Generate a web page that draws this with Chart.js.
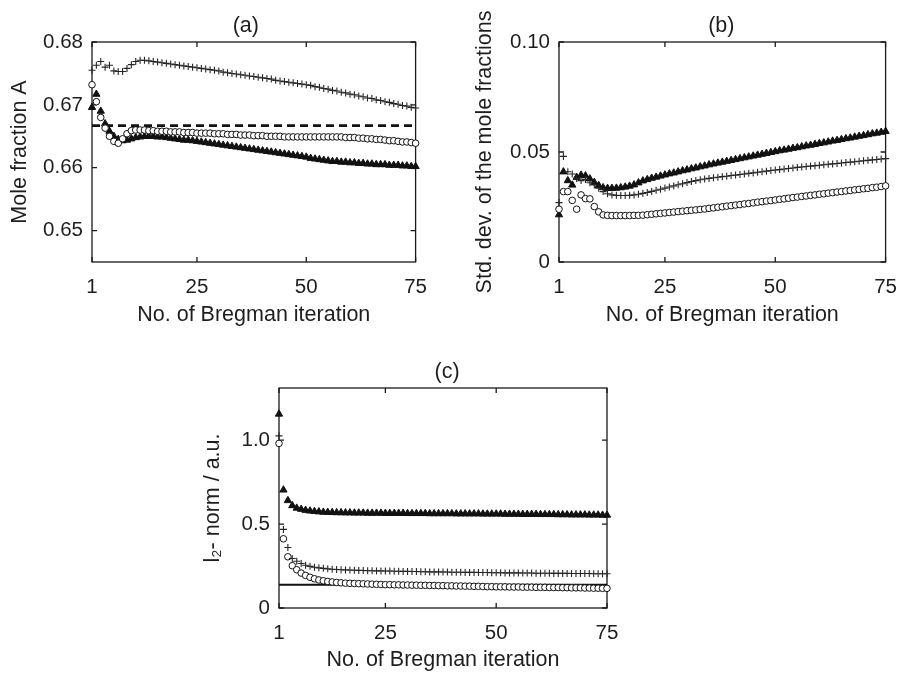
<!DOCTYPE html>
<html>
<head>
<meta charset="utf-8">
<script src="https://cdn.jsdelivr.net/npm/chart.js@4.4.0/dist/chart.umd.min.js"></script>
<style>
  body { margin: 0; background: #fff; width: 898px; height: 673px; overflow: hidden; position: relative; }
  canvas { position: absolute; }
</style>
</head>
<body>
<canvas id="chartA" width="440" height="330" style="left:0;top:0"></canvas>
<canvas id="chartB" width="470" height="330" style="left:440px;top:0"></canvas>
<canvas id="chartC" width="450" height="343" style="left:200px;top:330px"></canvas>
<script>
const iterations = [1, 2, 3, 4, 5, 6, 7, 8, 9, 10, 11, 12, 13, 14, 15, 16, 17, 18, 19, 20,
    21, 22, 23, 24, 25, 26, 27, 28, 29, 30, 31, 32, 33, 34, 35, 36, 37, 38, 39, 40,
    41, 42, 43, 44, 45, 46, 47, 48, 49, 50, 51, 52, 53, 54, 55, 56, 57, 58, 59, 60,
    61, 62, 63, 64, 65, 66, 67, 68, 69, 70, 71, 72, 73, 74, 75];
const xTicks = [1, 25, 50, 75];

// (a) mole fraction A
const aPlus = [0.6755, 0.6763, 0.6769, 0.6760, 0.6763, 0.6754, 0.6753, 0.6753, 0.6758, 0.6764,
    0.6769, 0.6771, 0.6771, 0.6770, 0.6769, 0.6768, 0.6767, 0.6766, 0.6765, 0.6764,
    0.6763, 0.6762, 0.6761, 0.6760, 0.6759, 0.6758, 0.6757, 0.6756, 0.6755, 0.6754,
    0.6752, 0.6751, 0.6750, 0.6749, 0.6748, 0.6747, 0.6746, 0.6745, 0.6744, 0.6743,
    0.6742, 0.6741, 0.6739, 0.6738, 0.6737, 0.6736, 0.6735, 0.6734, 0.6733, 0.6732,
    0.6731, 0.6729, 0.6728, 0.6726, 0.6725, 0.6723, 0.6722, 0.6720, 0.6719, 0.6717,
    0.6716, 0.6714, 0.6713, 0.6711, 0.6710, 0.6708, 0.6707, 0.6705, 0.6704, 0.6702,
    0.6701, 0.6699, 0.6698, 0.6696, 0.6695];
const aCircle = [0.6732, 0.6705, 0.6680, 0.6663, 0.6650, 0.6642, 0.6639, 0.6646, 0.6654, 0.6659,
    0.6660, 0.6660, 0.6660, 0.6659, 0.6659, 0.6658, 0.6658, 0.6658, 0.6657, 0.6657,
    0.6657, 0.6656, 0.6656, 0.6656, 0.6655, 0.6655, 0.6655, 0.6655, 0.6654, 0.6654,
    0.6654, 0.6653, 0.6653, 0.6653, 0.6652, 0.6652, 0.6652, 0.6651, 0.6651, 0.6651,
    0.6650, 0.6650, 0.6650, 0.6650, 0.6649, 0.6649, 0.6649, 0.6649, 0.6649, 0.6649,
    0.6649, 0.6649, 0.6649, 0.6649, 0.6649, 0.6649, 0.6649, 0.6649, 0.6648, 0.6648,
    0.6648, 0.6647, 0.6647, 0.6646, 0.6646, 0.6645, 0.6645, 0.6644, 0.6643, 0.6643,
    0.6642, 0.6641, 0.6641, 0.6640, 0.6639];
const aTri = [0.6696, 0.6717, 0.6690, 0.6670, 0.6658, 0.6650, 0.6645, 0.6643, 0.6644, 0.6646,
    0.6648, 0.6649, 0.6650, 0.6650, 0.6650, 0.6649, 0.6649, 0.6648, 0.6647, 0.6646,
    0.6645, 0.6644, 0.6644, 0.6643, 0.6642, 0.6641, 0.6640, 0.6639, 0.6638, 0.6637,
    0.6636, 0.6635, 0.6634, 0.6633, 0.6632, 0.6631, 0.6630, 0.6629, 0.6628, 0.6627,
    0.6626, 0.6625, 0.6624, 0.6623, 0.6622, 0.6621, 0.6620, 0.6619, 0.6618, 0.6617,
    0.6615, 0.6614, 0.6613, 0.6612, 0.6611, 0.6610, 0.6610, 0.6609, 0.6609, 0.6608,
    0.6608, 0.6607, 0.6607, 0.6606, 0.6606, 0.6605, 0.6605, 0.6605, 0.6604, 0.6604,
    0.6604, 0.6603, 0.6603, 0.6602, 0.6602];
const aReference = 0.6667;
const aTicks = [0.65, 0.66, 0.67, 0.68];
const aTickLabels = ['0.65', '0.66', '0.67', '0.68'];

// (b) standard deviation of the mole fractions
const bPlus = [0.0270, 0.0480, 0.0410, 0.0400, 0.0380, 0.0370, 0.0375, 0.0360, 0.0350, 0.0335,
    0.0320, 0.0310, 0.0305, 0.0303, 0.0302, 0.0302, 0.0303, 0.0305, 0.0308, 0.0312,
    0.0316, 0.0321, 0.0326, 0.0331, 0.0336, 0.0341, 0.0346, 0.0351, 0.0356, 0.0361,
    0.0366, 0.0370, 0.0374, 0.0377, 0.0380, 0.0383, 0.0385, 0.0388, 0.0390, 0.0393,
    0.0395, 0.0398, 0.0400, 0.0403, 0.0405, 0.0408, 0.0410, 0.0413, 0.0416, 0.0418,
    0.0420, 0.0423, 0.0425, 0.0427, 0.0430, 0.0432, 0.0434, 0.0436, 0.0438, 0.0440,
    0.0442, 0.0444, 0.0446, 0.0448, 0.0450, 0.0452, 0.0454, 0.0456, 0.0458, 0.0460,
    0.0462, 0.0464, 0.0466, 0.0468, 0.0470];
const bCircle = [0.0240, 0.0320, 0.0320, 0.0280, 0.0240, 0.0305, 0.0288, 0.0287, 0.0252, 0.0228,
    0.0214, 0.0212, 0.0211, 0.0211, 0.0211, 0.0211, 0.0211, 0.0212, 0.0212, 0.0213,
    0.0215, 0.0217, 0.0219, 0.0221, 0.0223, 0.0225, 0.0227, 0.0229, 0.0231, 0.0233,
    0.0235, 0.0237, 0.0239, 0.0241, 0.0244, 0.0246, 0.0249, 0.0251, 0.0254, 0.0256,
    0.0259, 0.0261, 0.0264, 0.0266, 0.0269, 0.0272, 0.0274, 0.0277, 0.0279, 0.0282,
    0.0285, 0.0287, 0.0290, 0.0293, 0.0295, 0.0298, 0.0300, 0.0303, 0.0305, 0.0308,
    0.0310, 0.0313, 0.0315, 0.0318, 0.0320, 0.0323, 0.0325, 0.0328, 0.0330, 0.0333,
    0.0335, 0.0338, 0.0340, 0.0343, 0.0346];
const bTri = [0.0215, 0.0410, 0.0370, 0.0350, 0.0385, 0.0395, 0.0392, 0.0378, 0.0362, 0.0348,
    0.0338, 0.0335, 0.0335, 0.0336, 0.0338, 0.0341, 0.0345, 0.0351, 0.0360, 0.0369,
    0.0375, 0.0381, 0.0386, 0.0391, 0.0396, 0.0401, 0.0405, 0.0410, 0.0415, 0.0419,
    0.0424, 0.0428, 0.0433, 0.0437, 0.0442, 0.0446, 0.0450, 0.0454, 0.0458, 0.0462,
    0.0466, 0.0470, 0.0474, 0.0478, 0.0482, 0.0486, 0.0490, 0.0494, 0.0498, 0.0502,
    0.0506, 0.0509, 0.0513, 0.0517, 0.0520, 0.0524, 0.0528, 0.0531, 0.0535, 0.0539,
    0.0542, 0.0546, 0.0550, 0.0553, 0.0557, 0.0561, 0.0564, 0.0568, 0.0572, 0.0575,
    0.0579, 0.0583, 0.0586, 0.0590, 0.0594];
const bTicks = [0, 0.05, 0.10];
const bTickLabels = ['0', '0.05', '0.10'];

// (c) l2-norm
const cPlus = [1.025, 0.468, 0.360, 0.295, 0.278, 0.265, 0.255, 0.248, 0.243, 0.239,
    0.236, 0.233, 0.231, 0.229, 0.228, 0.227, 0.226, 0.225, 0.224, 0.223,
    0.222, 0.222, 0.221, 0.221, 0.220, 0.220, 0.219, 0.219, 0.218, 0.218,
    0.217, 0.217, 0.216, 0.216, 0.215, 0.215, 0.215, 0.214, 0.214, 0.213,
    0.213, 0.213, 0.212, 0.212, 0.212, 0.211, 0.211, 0.211, 0.210, 0.210,
    0.210, 0.209, 0.209, 0.209, 0.209, 0.208, 0.208, 0.208, 0.207, 0.207,
    0.207, 0.207, 0.206, 0.206, 0.206, 0.206, 0.205, 0.205, 0.205, 0.205,
    0.205, 0.204, 0.204, 0.204, 0.204];
const cCircle = [0.980, 0.412, 0.305, 0.252, 0.228, 0.208, 0.194, 0.183, 0.174, 0.167,
    0.162, 0.158, 0.155, 0.152, 0.150, 0.148, 0.147, 0.146, 0.145, 0.144,
    0.143, 0.142, 0.141, 0.140, 0.139, 0.139, 0.138, 0.138, 0.137, 0.137,
    0.136, 0.136, 0.135, 0.135, 0.134, 0.134, 0.133, 0.133, 0.132, 0.132,
    0.131, 0.131, 0.130, 0.130, 0.129, 0.129, 0.128, 0.127, 0.127, 0.126,
    0.126, 0.126, 0.125, 0.125, 0.125, 0.124, 0.124, 0.124, 0.123, 0.123,
    0.123, 0.122, 0.122, 0.122, 0.121, 0.121, 0.120, 0.120, 0.120, 0.119,
    0.119, 0.118, 0.118, 0.117, 0.117];
const cTri = [1.155, 0.703, 0.640, 0.610, 0.595, 0.588, 0.582, 0.578, 0.575, 0.573,
    0.571, 0.570, 0.569, 0.568, 0.568, 0.567, 0.567, 0.566, 0.566, 0.566,
    0.565, 0.565, 0.565, 0.565, 0.564, 0.564, 0.564, 0.564, 0.564, 0.563,
    0.563, 0.563, 0.563, 0.563, 0.562, 0.562, 0.562, 0.562, 0.562, 0.562,
    0.561, 0.561, 0.561, 0.561, 0.561, 0.561, 0.560, 0.560, 0.560, 0.560,
    0.560, 0.559, 0.559, 0.559, 0.559, 0.558, 0.558, 0.558, 0.558, 0.557,
    0.557, 0.557, 0.557, 0.556, 0.556, 0.556, 0.555, 0.555, 0.555, 0.555,
    0.554, 0.554, 0.554, 0.553, 0.553];
const cReference = 0.138;
const cTicks = [0, 0.5, 1.0];
const cTickLabels = ['0', '0.5', '1.0'];

const FONT = "'Liberation Sans', Arial, sans-serif";
const TEXT = '#1e1e1e';
const TICK_SIZE = 20.5;
const TITLE_SIZE = 21.5;
Chart.defaults.font.family = FONT;
Chart.defaults.color = TEXT;

function points(values) {
    return iterations.map((x, i) => ({ x: x, y: values[i] }));
}

// box with inward ticks on all four sides, plus the (a)/(b)/(c) caption
const framePlugin = {
    id: 'frame',
    beforeDatasetsDraw(chart, args, opts) {
        const { ctx, chartArea: a, scales } = chart;
        const len = 5;
        ctx.save();
        ctx.strokeStyle = '#1a1a1a';
        ctx.lineWidth = 1.3;
        ctx.strokeRect(a.left, a.top, a.right - a.left, a.bottom - a.top);
        ctx.beginPath();
        scales.x.ticks.forEach(t => {
            const px = scales.x.getPixelForValue(t.value);
            ctx.moveTo(px, a.bottom); ctx.lineTo(px, a.bottom - len);
            ctx.moveTo(px, a.top); ctx.lineTo(px, a.top + len);
        });
        scales.y.ticks.forEach(t => {
            const py = scales.y.getPixelForValue(t.value);
            ctx.moveTo(a.left, py); ctx.lineTo(a.left + len, py);
            ctx.moveTo(a.right, py); ctx.lineTo(a.right - len, py);
        });
        ctx.stroke();
        ctx.restore();
    },
    afterDraw(chart, args, opts) {
        const { ctx, chartArea: a } = chart;
        ctx.save();
        ctx.font = TITLE_SIZE + 'px ' + FONT;
        ctx.fillStyle = TEXT;
        ctx.textAlign = 'center';
        ctx.textBaseline = 'middle';
        ctx.fillText(opts.title, (a.left + a.right) / 2 + (opts.dx || 0), a.top - 16);
        ctx.restore();
    }
};

function makePanel(id, p) {
    const datasets = [
        {
            data: points(p.plus), pointStyle: 'cross', pointRadius: 3.5,
            borderColor: '#262626', borderWidth: 1.1, showLine: false, clip: false
        },
        {
            data: points(p.circle), pointStyle: 'circle', pointRadius: 3.3,
            backgroundColor: '#fff', borderColor: '#111', borderWidth: 1, showLine: false, clip: false
        },
        {
            data: points(p.tri), pointStyle: 'triangle', pointRadius: 4.2,
            backgroundColor: '#111', borderColor: '#111', borderWidth: 1, showLine: false, clip: false
        }
    ];
    if (p.ref !== undefined) {
        datasets.push({
            data: [{ x: 1, y: p.ref }, { x: 75, y: p.ref }],
            showLine: true, pointRadius: 0, borderColor: '#111',
            borderWidth: p.refDash ? 2.6 : 2, borderDash: p.refDash || []
        });
    }

    new Chart(document.getElementById(id), {
        type: 'scatter',
        data: { datasets: datasets },
        options: {
            responsive: false,
            animation: false,
            events: [],
            layout: { padding: { left: 0, top: p.top, right: p.right, bottom: 0 } },
            plugins: {
                legend: { display: false },
                tooltip: { enabled: false },
                frame: { title: p.title, dx: p.dx }
            },
            scales: {
                x: {
                    type: 'linear', min: 1, max: 75,
                    afterBuildTicks: s => { s.ticks = xTicks.map(v => ({ value: v })); },
                    afterFit: s => { s.height = p.xHeight; },
                    grid: { display: false, drawTicks: false },
                    border: { display: false },
                    ticks: { font: { size: TICK_SIZE }, color: TEXT, padding: 13, maxRotation: 0, autoSkip: false },
                    title: {
                        display: true, text: 'No. of Bregman iteration', color: TEXT,
                        font: { size: TITLE_SIZE }, padding: { top: 0, bottom: p.xTitlePad }
                    }
                },
                y: {
                    min: p.yMin, max: p.yMax,
                    afterBuildTicks: s => { s.ticks = p.yTicks.map(v => ({ value: v })); },
                    afterFit: s => { s.width = p.yWidth; },
                    grid: { display: false, drawTicks: false },
                    border: { display: false },
                    ticks: {
                        font: { size: TICK_SIZE }, color: TEXT, padding: 9,
                        callback: v => p.yLabels[p.yTicks.indexOf(v)]
                    },
                    title: {
                        display: true, text: p.yTitle, color: TEXT,
                        font: { size: TITLE_SIZE }, padding: { top: p.yTitlePad, bottom: 0 }
                    }
                }
            }
        },
        plugins: [framePlugin]
    });
}

makePanel('chartA', {
    plus: aPlus, circle: aCircle, tri: aTri, ref: aReference, refDash: [8, 5],
    yMin: 0.645, yMax: 0.68, yTicks: aTicks, yLabels: aTickLabels,
    yTitle: 'Mole fraction A', title: '(a)', dx: -8,
    top: 42, right: 19, yWidth: 92, xHeight: 68, xTitlePad: 2, yTitlePad: 7
});
makePanel('chartB', {
    plus: bPlus, circle: bCircle, tri: bTri,
    yMin: 0, yMax: 0.1, yTicks: bTicks, yLabels: bTickLabels,
    yTitle: 'Std. dev. of the mole fractions', title: '(b)', dx: -1,
    top: 42, right: 22, yWidth: 119, xHeight: 68, xTitlePad: 2, yTitlePad: 32
});
makePanel('chartC', {
    plus: cPlus, circle: cCircle, tri: cTri, ref: cReference,
    yMin: 0, yMax: 1.31, yTicks: cTicks, yLabels: cTickLabels,
    yTitle: 'l\u2082- norm / a.u.', title: '(c)', dx: 4,
    top: 58, right: 43, yWidth: 79, xHeight: 65, xTitlePad: 0, yTitlePad: 0
});
</script>
</body>
</html>
